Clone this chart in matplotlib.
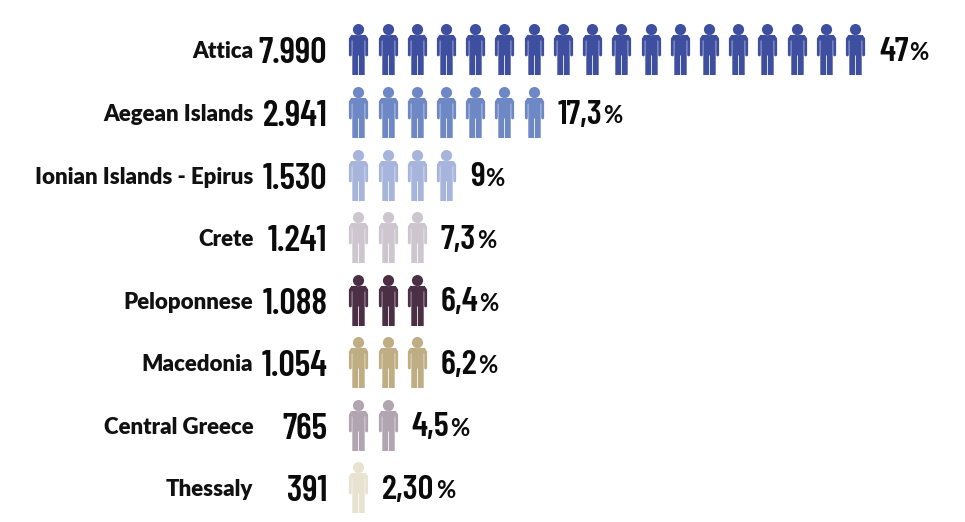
import matplotlib
matplotlib.use("Agg")
import matplotlib.pyplot as plt
from matplotlib.path import Path

regions = ["Attica", "Aegean Islands", "Ionian Islands - Epirus", "Crete",
           "Peloponnese", "Macedonia", "Central Greece", "Thessaly"]
values = [7990, 2941, 1530, 1241, 1088, 1054, 765, 391]
shares = ["47", "17,3", "9", "7,3", "6,4", "6,2", "4,5", "2,30"]
icon_counts = [18, 7, 4, 3, 3, 3, 2, 1]
colors = ["#3F4FA0", "#6D88C4", "#A7B5DC", "#CDC6CF",
          "#4B2F45", "#BFAE84", "#B1A5B1", "#E8E2D0"]

W, H = 965, 522
PX = 72 / 100
X0, DX, Y0, DY = 358.3, 29.22, 49.5, 62.55

body = [(-9.6, 11), (-7.3, 14.5), (7.3, 14.5), (9.6, 11), (9.6, -6), (8.2, -7), (6.7, -6),
        (6.7, 9), (6.2, 9), (6.2, -25.5), (0.4, -25.5), (0.4, -6), (-0.4, -6),
        (-0.4, -25.5), (-6.2, -25.5), (-6.2, 9), (-6.7, 9), (-6.7, -6), (-8.2, -7),
        (-9.6, -6), (-9.6, 11)]
head = Path.circle((0, 19.9), 5.6)
person = Path.make_compound_path(Path(body, closed=True), head)

fig = plt.figure(figsize=(W / 100, H / 100), dpi=100)
ax = fig.add_axes([0, 0, 1, 1])
ax.set_xlim(-X0 / DX, (W - X0) / DX)
ax.set_ylim((H - Y0) / DY, -Y0 / DY)
ax.axis("off")

LABEL = dict(family="Lato", weight="heavy", color="#111111")
NUM = dict(family=["Barlow Condensed", "Lato"], weight=600, color="#0B0B0B")

for row, (name, val, share, n, col) in enumerate(zip(regions, values, shares, icon_counts, colors)):
    ax.plot(range(n), [row] * n, ls="none", marker=person, ms=51 * PX, mfc=col, mew=0, clip_on=False)
    ax.annotate(name, xy=(0, row), xytext=(-105 * PX, -2.5 * PX), textcoords="offset points",
                ha="right", va="center", fontsize=16, **LABEL)
    num = f"{val:,}".replace(",", ".")
    ax.annotate(num, xy=(0, row), xytext=(-31 * PX, -14 * PX), textcoords="offset points",
                ha="right", va="baseline", fontsize=26, **NUM)
    t = ax.annotate(share, xy=(n - 1, row), xytext=(24 * PX, -11.5 * PX), textcoords="offset points",
                    ha="left", va="baseline", fontsize=25, **NUM)
    ax.annotate("%", xy=(1, 0), xycoords=t, xytext=(1 * PX, 7.5 * PX), textcoords="offset points",
                ha="left", va="baseline", fontsize=17, family="Lato", weight="bold", color="#0B0B0B")

fig.savefig("out.png", dpi=100, facecolor="white")
